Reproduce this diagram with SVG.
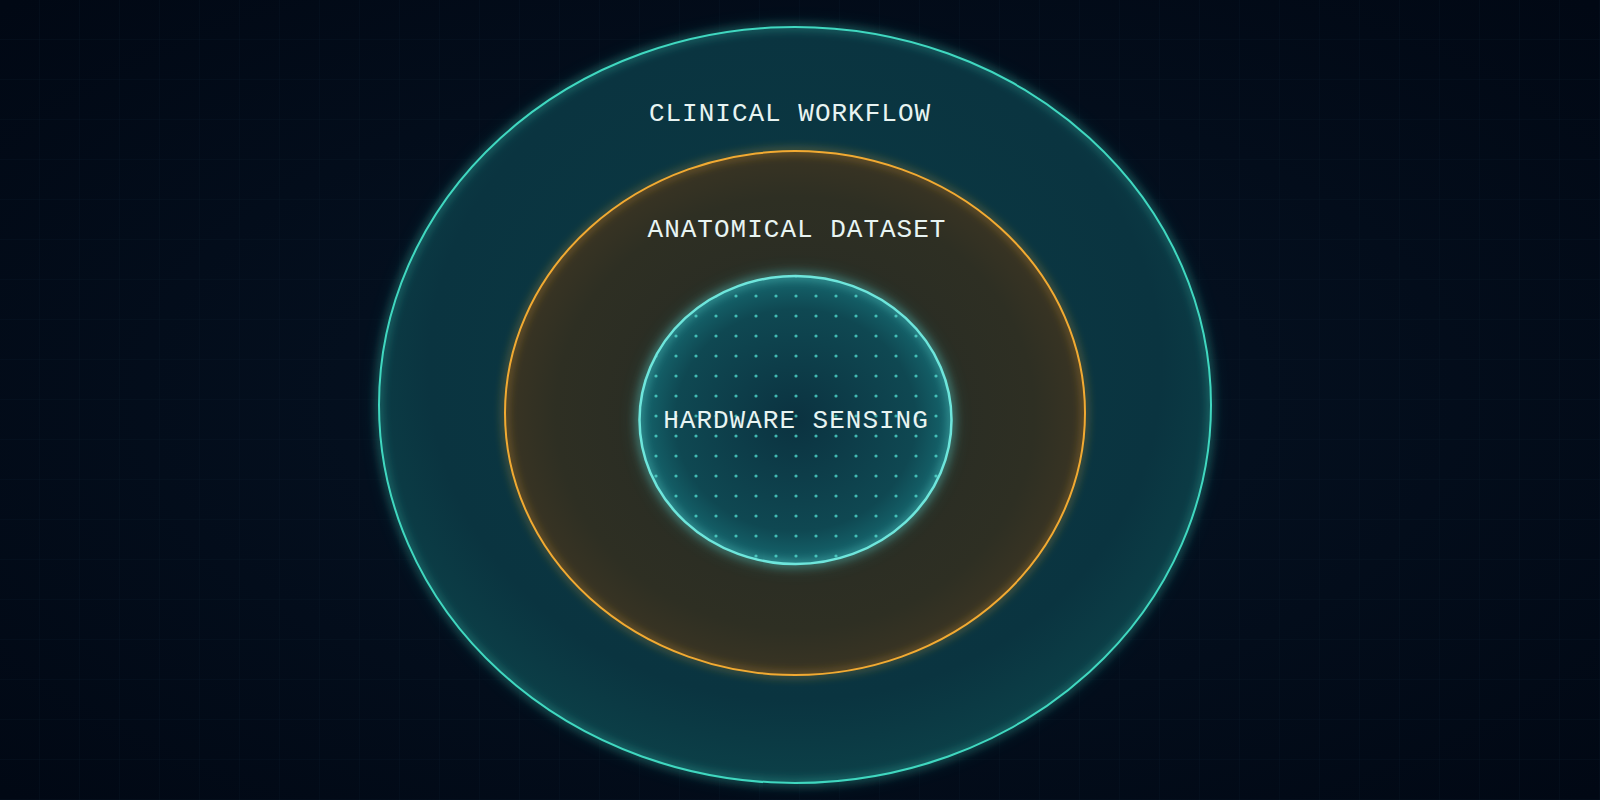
<svg xmlns="http://www.w3.org/2000/svg" width="1600" height="800" viewBox="0 0 1600 800">
<defs>
<style>
.lbl{font-family:"Liberation Mono","DejaVu Sans Mono",monospace;font-size:26px;letter-spacing:1px;fill:#e8f4f2;text-anchor:middle}
</style>
<radialGradient id="bg" cx="50%" cy="50%" r="70%">
<stop offset="0" stop-color="#061425"/>
<stop offset="1" stop-color="#010814"/>
</radialGradient>
<radialGradient id="outerFill" cx="50%" cy="45%" r="55%">
<stop offset="0" stop-color="#0b3a44"/>
<stop offset="0.8" stop-color="#0a3440"/>
<stop offset="1" stop-color="#0c4048"/>
</radialGradient>
<radialGradient id="midFill" cx="50%" cy="50%" r="55%">
<stop offset="0" stop-color="#242a26"/>
<stop offset="0.75" stop-color="#2e2f23"/>
<stop offset="1" stop-color="#403723"/>
</radialGradient>
<radialGradient id="innerFill" cx="50%" cy="50%" r="55%">
<stop offset="0" stop-color="#0b3240"/>
<stop offset="0.7" stop-color="#0f4852"/>
<stop offset="1" stop-color="#18747a"/>
</radialGradient>
<pattern id="dots" x="6" y="6" width="20" height="20" patternUnits="userSpaceOnUse">
<circle cx="10" cy="10" r="1.6" fill="#4fd8cc" opacity="0.8"/>
</pattern>
<pattern id="grid" width="40" height="40" patternUnits="userSpaceOnUse">
<path d="M40 0V40M0 40H40" fill="none" stroke="#0a1a2c" stroke-width="1" opacity="0.5"/>
</pattern>
<clipPath id="innerClip"><ellipse cx="795.5" cy="420" rx="155" ry="143"/></clipPath>
<filter id="glow" x="-20%" y="-20%" width="140%" height="140%">
<feGaussianBlur stdDeviation="5" result="b"/>
<feMerge><feMergeNode in="b"/><feMergeNode in="SourceGraphic"/></feMerge>
</filter>
<filter id="softglow" x="-20%" y="-20%" width="140%" height="140%">
<feGaussianBlur stdDeviation="10"/>
</filter>
</defs>
<rect width="1600" height="800" fill="url(#bg)"/>
<rect width="1600" height="800" fill="url(#grid)"/>

<g id="clinical-workflow">
<ellipse cx="795" cy="405" rx="416" ry="378" fill="#1a8a8a" opacity="0.25" filter="url(#softglow)"/>
<ellipse cx="795" cy="405" rx="416" ry="378" fill="url(#outerFill)"/>
<ellipse cx="795" cy="405" rx="416" ry="378" fill="none" stroke="#40d8c0" stroke-width="2" filter="url(#glow)"/>
<text class="lbl" x="790" y="121">CLINICAL WORKFLOW</text>
</g>

<g id="anatomical-dataset">
<ellipse cx="795" cy="413" rx="290" ry="262" fill="url(#midFill)"/>
<ellipse cx="795" cy="413" rx="290" ry="262" fill="none" stroke="#f2aa32" stroke-width="2" filter="url(#glow)"/>
<text class="lbl" x="797" y="237">ANATOMICAL DATASET</text>
</g>

<g id="hardware-sensing">
<ellipse cx="795.5" cy="420" rx="156" ry="144" fill="#2ab0b0" opacity="0.35" filter="url(#softglow)"/>
<ellipse cx="795.5" cy="420" rx="156" ry="144" fill="url(#innerFill)"/>
<rect x="635" y="272" width="325" height="300" fill="url(#dots)" clip-path="url(#innerClip)"/>
<ellipse cx="795.5" cy="420" rx="156" ry="144" fill="none" stroke="#6ee6dc" stroke-width="2.5" filter="url(#glow)"/>
<text class="lbl" x="796" y="428">HARDWARE SENSING</text>
</g>

<g id="connectors"/>
</svg>
